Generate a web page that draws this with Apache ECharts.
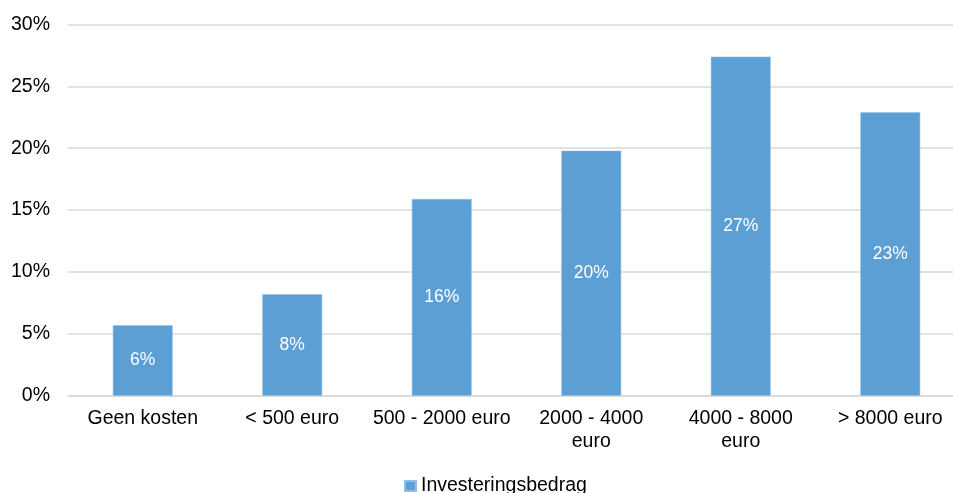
<!DOCTYPE html>
<html>
<head>
<meta charset="utf-8">
<script src="https://cdn.jsdelivr.net/npm/echarts@6/dist/echarts.min.js"></script>
<style>
html,body{margin:0;padding:0;background:#fff;overflow:hidden;}
#chart{width:965px;height:493px;}
</style>
</head>
<body>
<div id="chart"></div>
<script>
var categories = ["Geen kosten", "< 500 euro", "500 - 2000 euro", "2000 - 4000\neuro", "4000 - 8000\neuro", "> 8000 euro"];
var seriesName = "Investeringsbedrag";
var values = [5.7, 8.2, 15.9, 19.8, 27.4, 22.9];
var dataLabels = ["6%", "8%", "16%", "20%", "27%", "23%"];
var yTicks = [0, 5, 10, 15, 20, 25, 30];

var font = "'Liberation Sans', Arial, sans-serif";
var chart = echarts.init(document.getElementById('chart'), null, {renderer: 'canvas'});
chart.setOption({
  animation: false,
  backgroundColor: '#ffffff',
  grid: {left: 68, right: 0, top: 24.5, bottom: 97.3, containLabel: false},
  legend: {
    data: [seriesName],
    left: 404, top: 474, padding: 0,
    icon: 'rect', itemWidth: 11, itemHeight: 10, itemGap: 10,
    textStyle: {fontFamily: font, fontSize: 19.5, color: '#000', lineHeight: 24}
  },
  xAxis: {
    type: 'category',
    data: categories,
    axisLine: {lineStyle: {color: '#d9d9d9', width: 1.5}},
    axisTick: {show: false},
    axisLabel: {fontFamily: font, fontSize: 19.5, color: '#000', margin: 11.5, lineHeight: 23, interval: 0}
  },
  yAxis: {
    type: 'value',
    min: yTicks[0], max: yTicks[yTicks.length-1], interval: 5,
    axisLine: {show: false},
    axisTick: {show: false},
    splitLine: {lineStyle: {color: '#d9d9d9', width: 1.5}},
    axisLabel: {fontFamily: font, fontSize: 19.5, color: '#000', margin: 18, formatter: function(v){return v + '%';}}
  },
  series: [{
    name: seriesName,
    type: 'bar',
    data: values,
    barWidth: '40%',
    itemStyle: {color: '#5b9fd4', borderColor: '#8fbfe6', borderWidth: 0.5},
    label: {
      show: true, position: 'inside',
      fontFamily: font, fontSize: 17.5, color: '#ffffff',
      formatter: function(p){return dataLabels[p.dataIndex];}
    }
  }]
});
</script>
</body>
</html>
